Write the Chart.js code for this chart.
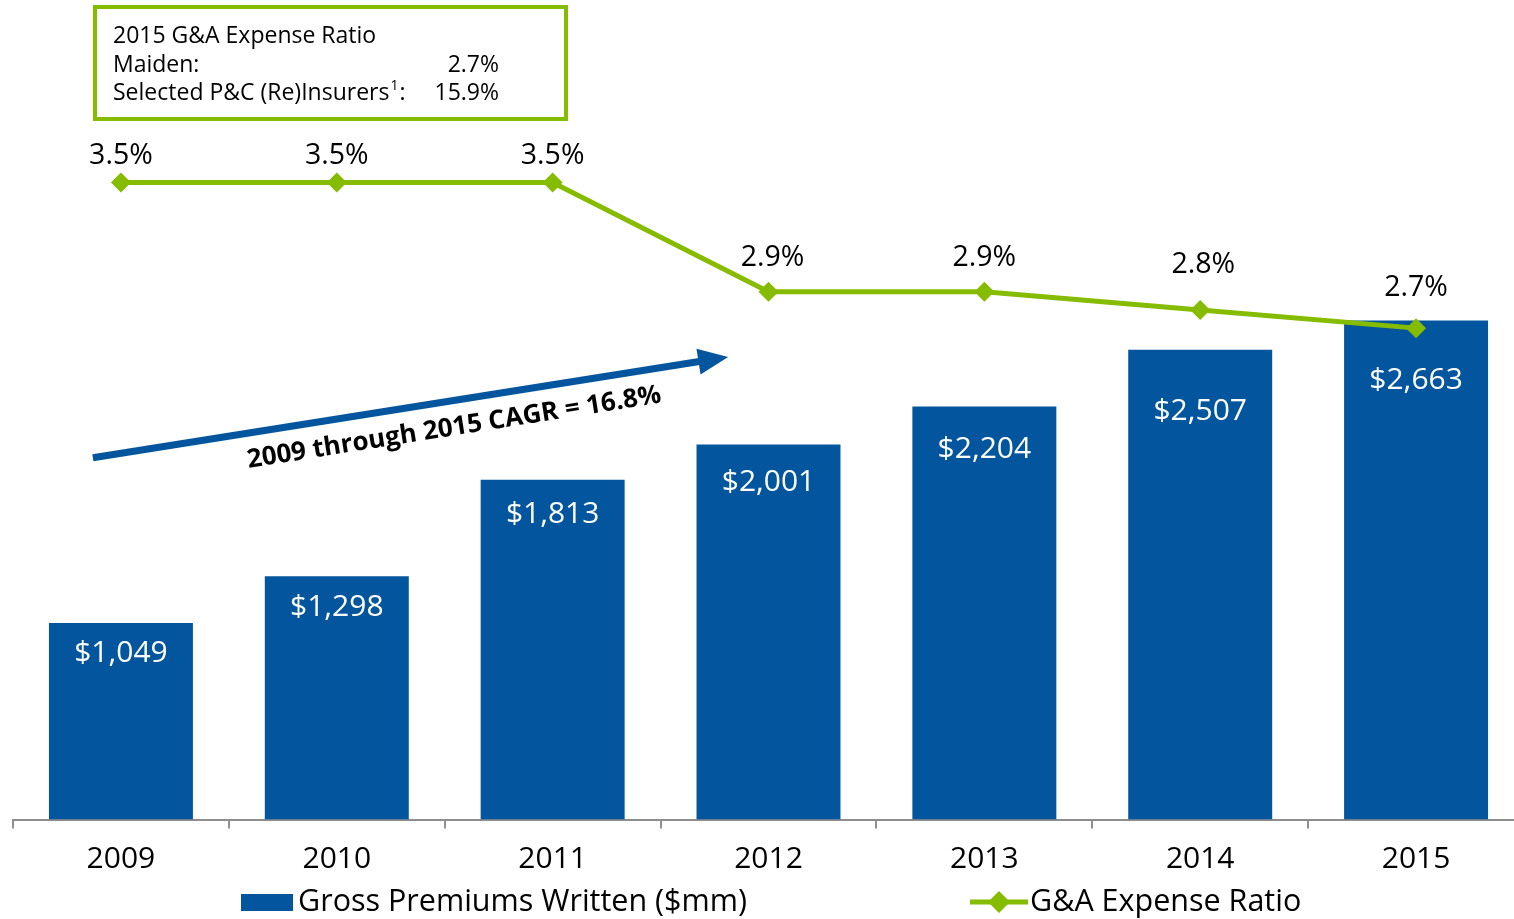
<!DOCTYPE html>
<html>
<head>
<meta charset="utf-8">
<script src="https://cdn.jsdelivr.net/npm/chart.js@4"></script>
<style>
html,body{margin:0;padding:0;overflow:hidden;background:#fff}
#wrap{position:relative;width:1530px;height:919px}
</style>
</head>
<body>
<div id="wrap"><canvas id="c" width="1530" height="919"></canvas></div>
<script>
// ---- data ----
const years = ['2009', '2010', '2011', '2012', '2013', '2014', '2015'];
const premiums = [1049, 1298, 1813, 2001, 2204, 2507, 2663];
const expenseRatio = [3.5, 3.5, 3.5, 2.9, 2.9, 2.8, 2.7];
const premiumSeriesName = 'Gross Premiums Written ($mm)';
const ratioSeriesName = 'G&A Expense Ratio';
const boxTitle = '2015 G&A Expense Ratio';
const boxRowLabels = ['Maiden:', 'Selected P&C (Re)Insurers'];
const boxRowValues = ['2.7%', '15.9%'];
const cagrText = '2009 through 2015 CAGR = 16.8%';

// ---- styles ----
const FONT = '"Open Sans", "Noto Sans", sans-serif';
const BLUE = '#03569E';
const GREEN = '#86BC00';
const AXIS_GREY = '#8e8e8e';
// label placement tweaks (px)
const barLabelDrop = [31, 31, 35, 38, 43, 62, 60];
const ratioLabelLift = [27, 27, 27, 34, 34, 45, 40];
const ratioLabelShiftX = [0, 0, 0, 4, 0, 3, 0];

const fmtMoney = v => '$' + v.toLocaleString('en-US');
const fmtPct = v => v.toFixed(1) + '%';

const annotations = {
  id: 'annotations',
  afterDatasetsDraw(chart) {
    const { ctx, scales } = chart;
    const x = scales.x, y = scales.y;
    const barMeta = chart.getDatasetMeta(0);
    const lineMeta = chart.getDatasetMeta(1);
    ctx.save();

    // bar value labels
    ctx.fillStyle = '#ffffff';
    ctx.font = '30px ' + FONT;
    ctx.textAlign = 'center';
    ctx.textBaseline = 'middle';
    barMeta.data.forEach((b, i) => {
      ctx.fillText(fmtMoney(premiums[i]), b.x, b.y + barLabelDrop[i]);
    });

    // ratio labels
    ctx.fillStyle = '#000000';
    ctx.font = '28.5px ' + FONT;
    lineMeta.data.forEach((p, i) => {
      ctx.fillText(fmtPct(expenseRatio[i]), p.x + ratioLabelShiftX[i], p.y - ratioLabelLift[i]);
    });

    // CAGR arrow (anchored in data space)
    const tx = x.getPixelForValue(-0.13), ty = y.getPixelForValue(1930);
    const hx = x.getPixelForValue(2.813), hy = y.getPixelForValue(2468);
    const ang = Math.atan2(hy - ty, hx - tx);
    const len = Math.hypot(hx - tx, hy - ty);
    ctx.save();
    ctx.translate(tx, ty);
    ctx.rotate(ang);
    ctx.fillStyle = BLUE;
    ctx.strokeStyle = BLUE;
    ctx.lineWidth = 7;
    ctx.beginPath();
    ctx.moveTo(0, 0);
    ctx.lineTo(len - 26, 0);
    ctx.stroke();
    ctx.beginPath();
    ctx.moveTo(len, 0);
    ctx.lineTo(len - 30, -13);
    ctx.lineTo(len - 30, 13);
    ctx.closePath();
    ctx.fill();
    ctx.fillStyle = '#000000';
    ctx.font = 'bold 26px ' + FONT;
    ctx.textAlign = 'center';
    ctx.textBaseline = 'middle';
    ctx.fillText(cagrText, len * 0.562, 27);
    ctx.restore();

    // info box
    ctx.strokeStyle = GREEN;
    ctx.lineWidth = 4;
    ctx.strokeRect(95, 7, 471, 112);
    ctx.fillStyle = '#000000';
    ctx.font = '23px ' + FONT;
    ctx.textAlign = 'left';
    ctx.textBaseline = 'middle';
    ctx.fillText(boxTitle, 113, 36);
    ctx.fillText(boxRowLabels[0], 113, 65);
    ctx.fillText(boxRowLabels[1], 113, 93);
    const w1 = ctx.measureText(boxRowLabels[1]).width;
    ctx.font = '14px ' + FONT;
    ctx.fillText('1', 113 + w1 + 1, 86);
    const w2 = ctx.measureText('1').width;
    ctx.font = '23px ' + FONT;
    ctx.fillText(':', 113 + w1 + w2 + 2, 93);
    ctx.textAlign = 'right';
    ctx.fillText(boxRowValues[0], 499, 65);
    ctx.fillText(boxRowValues[1], 499, 93);

    // legend
    ctx.fillStyle = BLUE;
    ctx.fillRect(241, 894, 52, 17);
    ctx.fillStyle = '#000000';
    ctx.font = '30.5px ' + FONT;
    ctx.textAlign = 'left';
    ctx.textBaseline = 'middle';
    ctx.fillText(premiumSeriesName, 298, 902);
    ctx.strokeStyle = GREEN;
    ctx.lineWidth = 5;
    ctx.beginPath();
    ctx.moveTo(970, 902);
    ctx.lineTo(1028, 902);
    ctx.stroke();
    ctx.fillStyle = GREEN;
    ctx.beginPath();
    ctx.moveTo(999 - 11, 902);
    ctx.lineTo(999, 902 - 11);
    ctx.lineTo(999 + 11, 902);
    ctx.lineTo(999, 902 + 11);
    ctx.closePath();
    ctx.fill();
    ctx.fillStyle = '#000000';
    ctx.fillText(ratioSeriesName, 1030, 902);

    ctx.restore();
  }
};

new Chart(document.getElementById('c'), {
  type: 'bar',
  data: {
    labels: years,
    datasets: [
      {
        type: 'bar',
        label: premiumSeriesName,
        data: premiums,
        backgroundColor: BLUE,
        borderWidth: 0,
        categoryPercentage: 1,
        barPercentage: 0.667,
        yAxisID: 'y',
        order: 2
      },
      {
        type: 'line',
        label: ratioSeriesName,
        data: expenseRatio,
        borderColor: GREEN,
        backgroundColor: GREEN,
        borderWidth: 5,
        pointStyle: 'rectRot',
        pointRadius: 10,
        pointBorderWidth: 0,
        pointBackgroundColor: GREEN,
        tension: 0,
        clip: false,
        yAxisID: 'y1',
        order: 1
      }
    ]
  },
  options: {
    responsive: false,
    animation: false,
    events: [],
    layout: { autoPadding: false, padding: { left: 13, right: 6, top: 0, bottom: 0 } },
    plugins: { legend: { display: false }, tooltip: { enabled: false } },
    scales: {
      x: {
        grid: { display: true, drawOnChartArea: false, drawTicks: true, tickLength: 9, color: AXIS_GREY, lineWidth: 2, offset: true },
        border: { display: true, color: AXIS_GREY, width: 2 },
        ticks: { color: '#000000', font: { family: FONT, size: 30 }, padding: 13, maxRotation: 0 },
        afterFit(scale) { scale.height = 99.5; }
      },
      y: { display: false, min: 0, max: 4373 },
      y1: { display: false, min: 0, max: 4.503, position: 'right' }
    }
  },
  plugins: [annotations]
});
</script>
</body>
</html>
